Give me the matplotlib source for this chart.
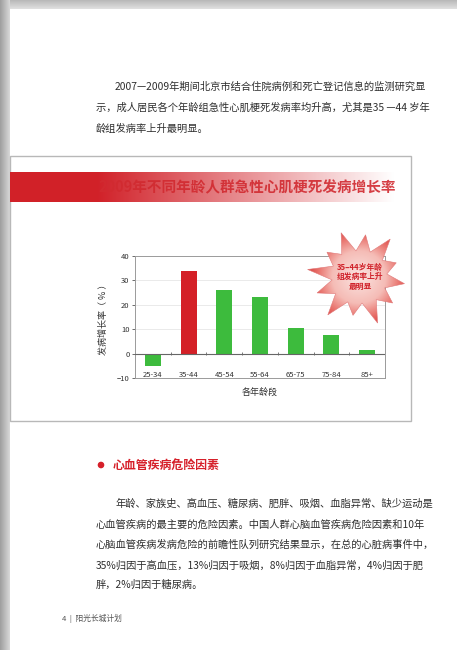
import numpy as np
import matplotlib
matplotlib.use('Agg')
import matplotlib.pyplot as plt
from matplotlib.patches import Polygon, Rectangle, Circle
from matplotlib.colors import LinearSegmentedColormap

plt.rcParams['font.family'] = ['Noto Sans CJK SC', 'DejaVu Sans']

# data
grupos_edad = ['25-34', '35-44', '45-54', '55-64', '65-75', '75-84', '85+']
tasa_aumento = [-5.0, 34.0, 26.0, 23.0, 10.5, 7.8, 1.5]
colores_barras = ['#3dbb3d', '#d42027', '#3dbb3d', '#3dbb3d', '#3dbb3d', '#3dbb3d', '#3dbb3d']
ticks_y = [-10, 0, 10, 20, 30, 40]

titulo = '2009年不同年龄人群急性心肌梗死发病增长率'
texto_estrella = ['35–44岁年龄', '组发病率上升', '最明显']
parrafo_1 = [
    '2007—2009年期间北京市结合住院病例和死亡登记信息的监测研究显',
    '示，成人居民各个年龄组急性心肌梗死发病率均升高，尤其是35 —44 岁年',
    '龄组发病率上升最明显。',
]
encabezado = '心血管疾病危险因素'
parrafo_2 = [
    '年龄、家族史、高血压、糖尿病、肥胖、吸烟、血脂异常、缺少运动是',
    '心血管疾病的最主要的危险因素。中国人群心脑血管疾病危险因素和10年',
    '心脑血管疾病发病危险的前瞻性队列研究结果显示，在总的心脏病事件中，',
    '35%归因于高血压，13%归因于吸烟，8%归因于血脂异常，4%归因于肥',
    '胖，2%归因于糖尿病。',
]
pie_pagina = '4  |  阳光长城计划'

W, H = 457, 650
fig = plt.figure(figsize=(W / 100, H / 100), dpi=100)

# page layer in pixel coordinates
pg = fig.add_axes([0, 0, 1, 1])
pg.set_xlim(0, W)
pg.set_ylim(H, 0)
pg.axis('off')

# grey page shadow on the left and top
grad = np.linspace(0.62, 0.85, 64).reshape(1, -1)
pg.imshow(grad, extent=(0, 10, H, 0), cmap='gray', vmin=0, vmax=1, aspect='auto', zorder=1)
pg.imshow(np.linspace(0.72, 0.88, 64).reshape(-1, 1), extent=(0, W, 9, 0),
          cmap='gray', vmin=0, vmax=1, aspect='auto', zorder=0)

txt = '#2e2e2e'
fs = 7.4
y0 = [87, 108, 129]
for i, linea in enumerate(parrafo_1):
    pg.text(115 if i == 0 else 96, y0[i], linea, fontsize=fs, color=txt, va='center', ha='left')

# chart panel
pg.add_patch(Rectangle((10, 156), 401, 265, facecolor='white', edgecolor='#b8b8b8', lw=1.0, zorder=2))

# red banner fading to white
rojo = np.array([0.82, 0.13, 0.16])
n = 400
t = np.clip((np.arange(n) / n - 0.22) / 0.75, 0, 1)
banda = np.zeros((1, n, 3))
for k in range(3):
    banda[0, :, k] = rojo[k] * (1 - t) + 1.0 * t
pg.imshow(banda, extent=(10, 405, 202, 172), aspect='auto', zorder=3)
pg.text(247, 187, titulo, fontsize=10.5, fontweight='bold', color='#d12a30', ha='center',
        va='center', zorder=4, alpha=0.9)

# bar chart
ax = fig.add_axes([135 / W, 1 - 378 / H, 250 / W, 122 / H])
ax.set_zorder(5)
x = np.arange(len(grupos_edad))
ax.bar(x, tasa_aumento, width=0.45, color=colores_barras, zorder=3)
ax.set_xlim(-0.5, len(grupos_edad) - 0.5)
ax.set_ylim(-10, 40)
ax.set_yticks(ticks_y)
ax.tick_params(axis='y', labelsize=5.5, length=2, width=0.5, pad=2, colors='#333333')
ax.set_xticks([])
for gx, g in zip(x, grupos_edad):
    ax.text(gx, -8.6, g, fontsize=5.5, color='#333333', ha='center', va='center')
ax.axhline(0, color='#666666', lw=0.8, zorder=4)
ax.vlines(x[:-1] + 0.5, -0.6, 0.6, color='#666666', lw=0.6, zorder=4)
for yv in ticks_y[2:-1]:
    ax.axhline(yv, color='#e6e6e6', lw=0.6, zorder=1)
for s in ax.spines.values():
    s.set_color('#9a9a9a')
    s.set_linewidth(0.7)
ax.set_ylabel('发病增长率（ % ）', fontsize=6.5, color='#333333', labelpad=6)
ax.set_xlabel('各年龄段', fontsize=6.5, color='#333333', labelpad=7)

# starburst callout on a transparent overlay above the chart
ov = fig.add_axes([0, 0, 1, 1])
ov.set_zorder(10)
ov.set_xlim(0, W)
ov.set_ylim(H, 0)
ov.axis('off')
ov.patch.set_alpha(0)

cx, cy = 359, 277
radios = [46, 28, 43, 29, 51, 27, 40, 28, 50, 29, 45, 27, 52, 28, 41, 29, 49, 27, 44, 28, 50, 29, 40, 28]
ang = np.linspace(0, 2 * np.pi, len(radios), endpoint=False) + 0.15
pts = np.column_stack([cx + np.array(radios) * np.cos(ang), cy + np.array(radios) * 0.97 * np.sin(ang)])
estrella = Polygon(pts, closed=True, facecolor='none', edgecolor='#e07878', lw=0.4, zorder=7)
ov.add_patch(estrella)
yy, xx = np.mgrid[-1:1:200j, -1:1:200j]
rr = np.sqrt(xx ** 2 + yy ** 2)
cmap_e = LinearSegmentedColormap.from_list(
    'e', [(0, '#fbe4e1'), (0.5, '#f5bcb6'), (0.78, '#e86e68'), (1, '#d63a3a')])
im = ov.imshow(rr, extent=(cx - 54, cx + 54, cy + 53, cy - 53), cmap=cmap_e, vmin=0, vmax=1,
               aspect='auto', zorder=6)
im.set_clip_path(estrella)
for i, linea in enumerate(texto_estrella):
    ov.text(cx + 1, 267 + i * 9.5, linea, fontsize=5.6, fontweight='bold', color='#d0222a',
            ha='center', va='center', zorder=8)

# section heading
pg.add_patch(Circle((101, 465), 2.6, color='#d6202a', zorder=3))
pg.text(113, 465, encabezado, fontsize=8.6, fontweight='bold', color='#d6202a', va='center', ha='left')

y1 = [504, 525, 545, 566, 585]
for i, linea in enumerate(parrafo_2):
    pg.text(115 if i == 0 else 96, y1[i], linea, fontsize=fs, color=txt, va='center', ha='left')

pg.text(62, 618, pie_pagina, fontsize=5.6, color='#555555', va='center', ha='left')

fig.savefig('out.png', dpi=100)
